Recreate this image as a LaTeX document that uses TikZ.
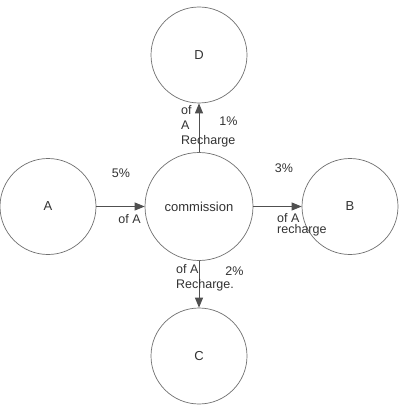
\documentclass[tikz,border=0pt]{standalone}
\usepackage{fontspec}
\setmainfont{Liberation Sans}
\usetikzlibrary{arrows.meta}
\definecolor{circ}{HTML}{707070}
\definecolor{arr}{HTML}{505050}
\definecolor{txt}{HTML}{333333}
\tikzset{
  bubble/.style={circle,draw=circ,line width=0.7pt,fill=white,inner sep=0pt,text=txt,font=\fontsize{13}{15}\selectfont},
  conn/.style={draw=arr,line width=0.9pt,-{Triangle[length=10pt,width=8pt]}},
  lbl/.style={text=txt,inner sep=0pt,font=\fontsize{12.5}{15}\selectfont,align=left},
}
\begin{document}
\begin{tikzpicture}[x=1pt,y=-1pt]
\useasboundingbox[fill=white] (0,0) rectangle (407,417);
\node[bubble,minimum size=96pt] (A) at (48,206.5) {A};
\node[bubble,minimum size=108pt] (M) at (199,206.5) {commission};
\node[bubble,minimum size=96pt] (B) at (350,206.5) {B};
\node[bubble,minimum size=96pt] (D) at (199,55) {D};
\node[bubble,minimum size=96pt] (C) at (199,356) {C};
\draw[conn] (A) -- (M);
\draw[conn] (M) -- (B);
\draw[conn] (M) -- (D);
\draw[conn] (M) -- (C);
\node[lbl] (l5) at (121,173.5) {5\%};
\node[lbl] (l5b) at (129.5,219.5) {of A};
\node[lbl] (l3) at (284,168.5) {3\%};
\node[lbl,anchor=north west,font=\fontsize{12.5}{11.5}\selectfont] (l3b) at (277,213) {of A\\recharge};
\node[lbl] (l1) at (228.5,121.5) {1\%};
\node[lbl,anchor=north west] (l1b) at (181,105) {of\\A\\Recharge};
\node[lbl] (l2) at (234.5,271.5) {2\%};
\node[lbl,anchor=north west] (l2b) at (176,264) {of A\\Recharge.};
\end{tikzpicture}
\end{document}
